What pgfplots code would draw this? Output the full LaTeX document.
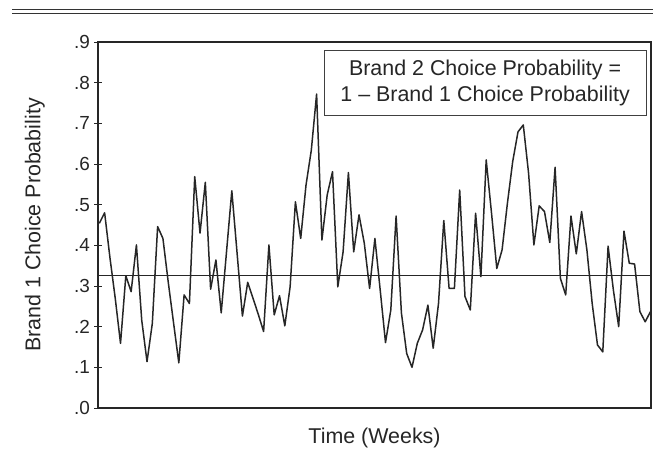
\documentclass[border=0pt]{standalone}
\usepackage{fontspec}
\setmainfont{Liberation Sans}
\usepackage{pgfplots}
\pgfplotsset{compat=1.18}
\begin{document}
\begin{tikzpicture}[x=1bp,y=1bp]
\path[use as bounding box] (0,0) rectangle (657,466);
\draw[line width=1.4bp,black!80] (12,456.5) -- (653,456.5);
\draw[line width=1.0bp,black!80] (12,452.5) -- (653,452.5);
\begin{axis}[
  at={(98bp,58bp)}, anchor=south west,
  scale only axis, width=553bp, height=366bp,
  xmin=-0.25, xmax=104.1, ymin=0, ymax=0.9,
  xtick=\empty,
  ytick={0,0.1,0.2,0.3,0.4,0.5,0.6,0.7,0.8,0.9},
  yticklabels={.0,.1,.2,.3,.4,.5,.6,.7,.8,.9},
  ytick pos=left,
  /pgf/number format/assume math mode=true,
  tick align=center, major tick length=8bp,
  tick style={line width=0.9bp, black!85},
  axis line style={line width=1.1bp, black!85},
  yticklabel style={font=\fontsize{19}{22}\selectfont, inner sep=4bp, text=black!85},
  xlabel={Time (Weeks)}, ylabel={Brand 1 Choice Probability},
  label style={font=\fontsize{21.5}{26}\selectfont, text=black!85},
  xlabel style={at={(axis description cs:0.5,-0.082)}, anchor=center},
  ylabel style={at={(axis description cs:-0.114,0.5)}, anchor=center},
  clip=false,
]
\addplot[line width=1.5bp, black!85, mark=none, line join=round] coordinates {
(0,0.454) (1,0.480) (2,0.37) (3,0.27) (4,0.159) (5,0.325) (6,0.286) (7,0.401)
(8,0.216) (9,0.114) (10,0.208) (11,0.446) (12,0.417) (13,0.31) (14,0.21)
(15,0.111) (16,0.278) (17,0.257) (18,0.569) (19,0.430) (20,0.555) (21,0.292)
(22,0.364) (23,0.234) (24,0.384) (25,0.534) (26,0.38) (27,0.226) (28,0.309)
(29,0.27) (30,0.23) (31,0.188) (32,0.401) (33,0.229) (34,0.276) (35,0.202)
(36,0.298) (37,0.507) (38,0.417) (39,0.548) (40,0.634) (41,0.772) (42,0.413)
(43,0.524) (44,0.581) (45,0.298) (46,0.384) (47,0.579) (48,0.384) (49,0.475)
(50,0.405) (51,0.294) (52,0.417) (53,0.29) (54,0.161) (55,0.241) (56,0.472)
(57,0.234) (58,0.134) (59,0.100) (60,0.159) (61,0.192) (62,0.253) (63,0.147)
(64,0.257) (65,0.461) (66,0.294) (67,0.294) (68,0.536) (69,0.274) (70,0.241)
(71,0.479) (72,0.323) (73,0.610) (74,0.48) (75,0.343) (76,0.389) (77,0.503)
(78,0.606) (79,0.679) (80,0.696) (81,0.577) (82,0.401) (83,0.497) (84,0.483)
(85,0.407) (86,0.592) (87,0.319) (88,0.278) (89,0.472) (90,0.379) (91,0.483)
(92,0.389) (93,0.257) (94,0.155) (95,0.138) (96,0.398) (97,0.290) (98,0.200)
(99,0.435) (100,0.356) (101,0.354) (102,0.237) (103,0.212) (104,0.237)
};
\addplot[line width=0.9bp, black!85, mark=none] coordinates {(-0.25,0.327) (104.1,0.327)};
\node[draw=black!75, line width=0.8bp, fill=white, align=center,
  minimum width=322bp, minimum height=65bp, inner sep=0pt, text=black!85,
  font=\fontsize{21.5}{26}\selectfont]
  at (rel axis cs:0.70,0.889) {Brand 2 Choice Probability =\\1 -- Brand 1 Choice Probability};
\end{axis}
\end{tikzpicture}
\end{document}
